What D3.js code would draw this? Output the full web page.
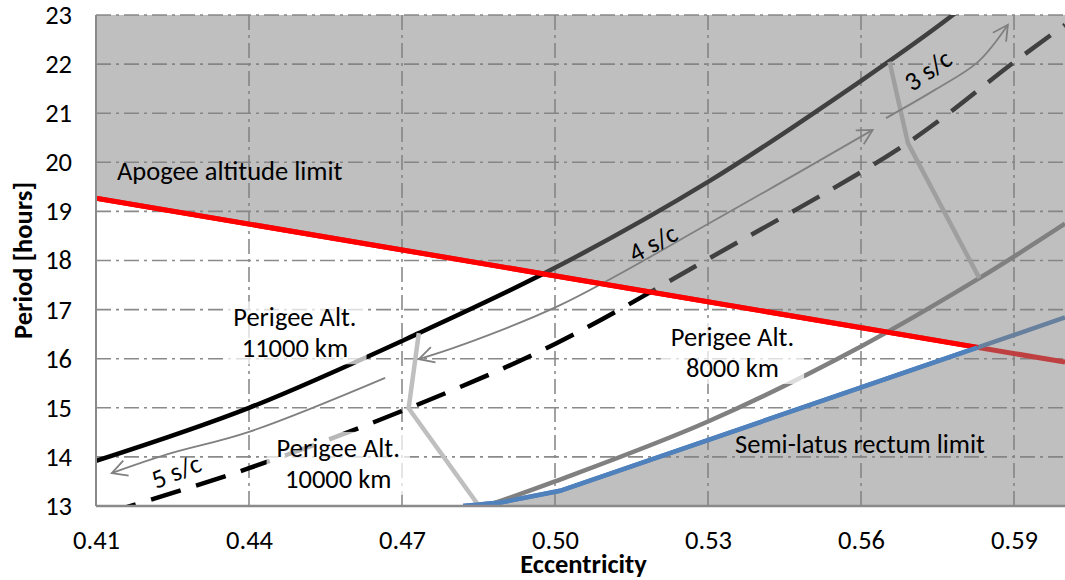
<!DOCTYPE html>
<html>
<head>
<meta charset="utf-8">
<title>Period vs Eccentricity</title>
<script src="https://cdn.jsdelivr.net/npm/d3@7"></script>
<style>
  body { margin: 0; background: #fff; }
  text { font-family: Carlito, Lato, sans-serif; fill: #000; }
</style>
</head>
<body>
<svg id="chart" width="1065" height="580"></svg>
<script>
// axis ticks
var eccTicks = [0.41, 0.44, 0.47, 0.50, 0.53, 0.56, 0.59];
var periodTicks = [13, 14, 15, 16, 17, 18, 19, 20, 21, 22, 23];

// limits  [eccentricity, period]
var apogeeLimit = [[0.41, 19.27], [0.60, 15.93]];
var semiLatusLimit = [[0.482, 13.0], [0.4893, 13.07], [0.501, 13.31], [0.60, 16.84]];

// perigee altitude curves
var perigee11000 = [[0.41, 13.92], [0.44, 15.0], [0.4733, 16.52], [0.50, 17.85], [0.53, 19.6], [0.56, 21.66], [0.578, 23.0], [0.585, 23.6]];
var perigee10000 = [[0.412, 12.85], [0.44, 13.77], [0.4713, 14.99], [0.50, 16.3], [0.53, 18.03], [0.5692, 20.4], [0.59, 22.04], [0.60, 22.8]];
var perigee8000 = [[0.4865, 13.0], [0.50, 13.5], [0.53, 14.72], [0.56, 16.25], [0.5832, 17.64], [0.60, 18.75]];

// constellation links between curves
var link10000 = [[0.4733, 16.52], [0.4713, 14.99], [0.4851, 13.0]];
var link8000 = [[0.5656, 22.05], [0.5692, 20.39], [0.5832, 17.64]];

// s/c arrows
var arrow5 = [[0.4667, 15.61], [0.44, 14.51], [0.4239, 14.05], [0.4131, 13.67]];
var arrow4 = [[0.4733, 15.99], [0.4815, 16.27], [0.501, 17.09], [0.5325, 18.89], [0.5623, 20.66]];
var arrow3 = [[0.5649, 20.9], [0.5744, 21.47], [0.583, 22.05], [0.5888, 22.8]];

var pLeft = 96, pRight = 1065, pTop = 15, pBottom = 506;
var fs = 26.5;

var svg = d3.select('#chart');
var x = d3.scaleLinear().domain([0.41, 0.60]).range([pLeft, pRight]);
var y = d3.scaleLinear().domain([13, 23]).range([pBottom, pTop]);

var line = d3.line()
    .x(function(d) { return x(d[0]); })
    .y(function(d) { return y(d[1]); })
    .curve(d3.curveCatmullRom.alpha(0.5));
var straight = d3.line()
    .x(function(d) { return x(d[0]); })
    .y(function(d) { return y(d[1]); });

var defs = svg.append('defs');
defs.append('clipPath').attr('id', 'plot')
    .append('rect').attr('x', pLeft).attr('y', pTop)
    .attr('width', pRight - pLeft).attr('height', pBottom - pTop);
defs.append('marker')
    .attr('id', 'head')
    .attr('markerUnits', 'userSpaceOnUse')
    .attr('viewBox', '0 0 18 18')
    .attr('markerWidth', 18).attr('markerHeight', 18)
    .attr('refX', 16).attr('refY', 9)
    .attr('orient', 'auto-start-reverse')
    .append('path')
    .attr('d', 'M1,1 L16,9 L1,17')
    .attr('fill', 'none').attr('stroke', '#808080').attr('stroke-width', 1.8);

// grid
var grid = svg.append('g');
grid.selectAll('.v').data(eccTicks.slice(1)).enter().append('line')
    .attr('x1', function(d) { return x(d); }).attr('x2', function(d) { return x(d); })
    .attr('y1', pTop).attr('y2', pBottom);
grid.selectAll('.h').data(periodTicks.slice(1)).enter().append('line')
    .attr('x1', pLeft).attr('x2', pRight)
    .attr('y1', function(d) { return y(d); }).attr('y2', function(d) { return y(d); });
grid.selectAll('line')
    .attr('stroke', '#8a8a8a').attr('stroke-width', 1.6)
    .attr('stroke-dasharray', '15,5,3,5');

var plot = svg.append('g').attr('clip-path', 'url(#plot)');

// intersection of the two limits
function crossing(a, b) {
  for (var i = 0; i < a.length - 1; i++) {
    for (var j = 0; j < b.length - 1; j++) {
      var p = a[i], r = [a[i+1][0] - p[0], a[i+1][1] - p[1]];
      var q = b[j], s = [b[j+1][0] - q[0], b[j+1][1] - q[1]];
      var den = r[0] * s[1] - r[1] * s[0];
      if (den === 0) continue;
      var t = ((q[0] - p[0]) * s[1] - (q[1] - p[1]) * s[0]) / den;
      var u = ((q[0] - p[0]) * r[1] - (q[1] - p[1]) * r[0]) / den;
      if (t >= 0 && t <= 1 && u >= 0 && u <= 1) return [p[0] + t * r[0], p[1] + t * r[1]];
    }
  }
}
var X = crossing(apogeeLimit, semiLatusLimit);
function before(l) { return l.filter(function(d) { return d[0] < X[0]; }).concat([X]); }
var allowed = [[0.41, 13]].concat(before(apogeeLimit), before(semiLatusLimit).reverse());

// series
plot.append('path').attr('d', straight(apogeeLimit))
    .attr('fill', 'none').attr('stroke', '#ff0000').attr('stroke-width', 5);
plot.append('path').attr('d', straight(semiLatusLimit))
    .attr('fill', 'none').attr('stroke', '#4f81bd').attr('stroke-width', 4.5);
plot.append('path').attr('d', line(perigee11000))
    .attr('fill', 'none').attr('stroke', '#000').attr('stroke-width', 4.5);
plot.append('path').attr('d', line(perigee10000))
    .attr('fill', 'none').attr('stroke', '#000').attr('stroke-width', 4.5)
    .attr('stroke-dasharray', '31,16');
plot.append('path').attr('d', line(perigee8000))
    .attr('fill', 'none').attr('stroke', '#808080').attr('stroke-width', 4.5);
[link10000, link8000].forEach(function(l) {
  plot.append('path').attr('d', straight(l))
      .attr('fill', 'none').attr('stroke', '#bfbfbf').attr('stroke-width', 4.5)
      .attr('stroke-linejoin', 'round');
});

// arrows
plot.append('path').attr('d', line(arrow5))
    .attr('fill', 'none').attr('stroke', '#808080').attr('stroke-width', 1.8)
    .attr('marker-end', 'url(#head)');
plot.append('path').attr('d', line(arrow4))
    .attr('fill', 'none').attr('stroke', '#808080').attr('stroke-width', 1.8)
    .attr('marker-start', 'url(#head)').attr('marker-end', 'url(#head)');
plot.append('path').attr('d', line(arrow3))
    .attr('fill', 'none').attr('stroke', '#808080').attr('stroke-width', 1.8)
    .attr('marker-end', 'url(#head)');

// shaded (not allowed) region, drawn over the curves
plot.append('path')
    .attr('d', 'M' + pLeft + ',' + pTop + 'H' + pRight + 'V' + pBottom + 'H' + pLeft + 'Z' + straight(allowed) + 'Z')
    .attr('fill', 'rgba(128,128,128,0.5)').attr('fill-rule', 'evenodd');

// limit lines bounding the allowed region stay in full colour
plot.append('path').attr('d', straight(before(apogeeLimit)))
    .attr('fill', 'none').attr('stroke', '#ff0000').attr('stroke-width', 5);
plot.append('path').attr('d', straight(before(semiLatusLimit)))
    .attr('fill', 'none').attr('stroke', '#4f81bd').attr('stroke-width', 4.5);

// axes
var xAxis = svg.append('g').attr('transform', 'translate(0,' + pBottom + ')')
    .call(d3.axisBottom(x).tickValues(eccTicks).tickFormat(d3.format('.2f')).tickSize(0).tickPadding(24));
var yAxis = svg.append('g').attr('transform', 'translate(' + pLeft + ',0)')
    .call(d3.axisLeft(y).tickValues(periodTicks).tickFormat(d3.format('d')).tickSize(0).tickPadding(24));
[xAxis, yAxis].forEach(function(a) {
  a.select('.domain').remove();
  a.selectAll('text').attr('font-size', fs).attr('font-family', 'Carlito, Lato, sans-serif').attr('fill', '#000');
});
svg.append('line').attr('x1', pLeft).attr('x2', pLeft).attr('y1', pTop).attr('y2', pBottom)
    .attr('stroke', '#8a8a8a').attr('stroke-width', 2);
svg.append('line').attr('x1', pLeft).attr('x2', pRight).attr('y1', pBottom).attr('y2', pBottom)
    .attr('stroke', '#8a8a8a').attr('stroke-width', 2.5);

svg.append('text').attr('x', (pLeft + pRight) / 2 + 3).attr('y', 573)
    .attr('text-anchor', 'middle').attr('font-size', fs).attr('font-weight', 'bold')
    .text('Eccentricity');
svg.append('text').attr('transform', 'translate(32,' + ((pTop + pBottom) / 2) + ') rotate(-90)')
    .attr('text-anchor', 'middle').attr('font-size', fs).attr('font-weight', 'bold')
    .text('Period [hours]');

// annotations
var notes = svg.append('g');
function boxed(pos, lines) {
  var g = notes.append('g');
  var t = g.append('text').attr('text-anchor', 'middle').attr('font-size', fs);
  lines.forEach(function(s, i) {
    t.append('tspan').attr('x', x(pos[0])).attr('y', y(pos[1]) + i * 31).text(s);
  });
  var b = t.node().getBBox();
  g.insert('rect', 'text')
      .attr('x', b.x - 10).attr('y', b.y)
      .attr('width', b.width + 20).attr('height', Math.min(b.height, pBottom - b.y))
      .attr('fill', 'rgba(255,255,255,0.72)');
}
boxed([0.449, 16.66], ['Perigee Alt.', '11000 km']);
boxed([0.4575, 14.0], ['Perigee Alt.', '10000 km']);
boxed([0.5348, 16.26], ['Perigee Alt.', '8000 km']);

notes.append('text').attr('x', x(0.4141)).attr('y', y(19.64)).attr('font-size', fs)
    .text('Apogee altitude limit');
notes.append('text').attr('x', x(0.5353)).attr('y', y(14.08)).attr('font-size', fs)
    .text('Semi-latus rectum limit');

[[[0.4257, 13.71], -22, '5 s/c'], [[0.5192, 18.36], -28, '4 s/c'], [[0.5731, 21.88], -35, '3 s/c']]
  .forEach(function(n) {
    notes.append('text')
        .attr('transform', 'translate(' + x(n[0][0]) + ',' + y(n[0][1]) + ') rotate(' + n[1] + ')')
        .attr('text-anchor', 'middle').attr('dy', '0.35em').attr('font-size', fs)
        .text(n[2]);
  });
</script>
</body>
</html>
